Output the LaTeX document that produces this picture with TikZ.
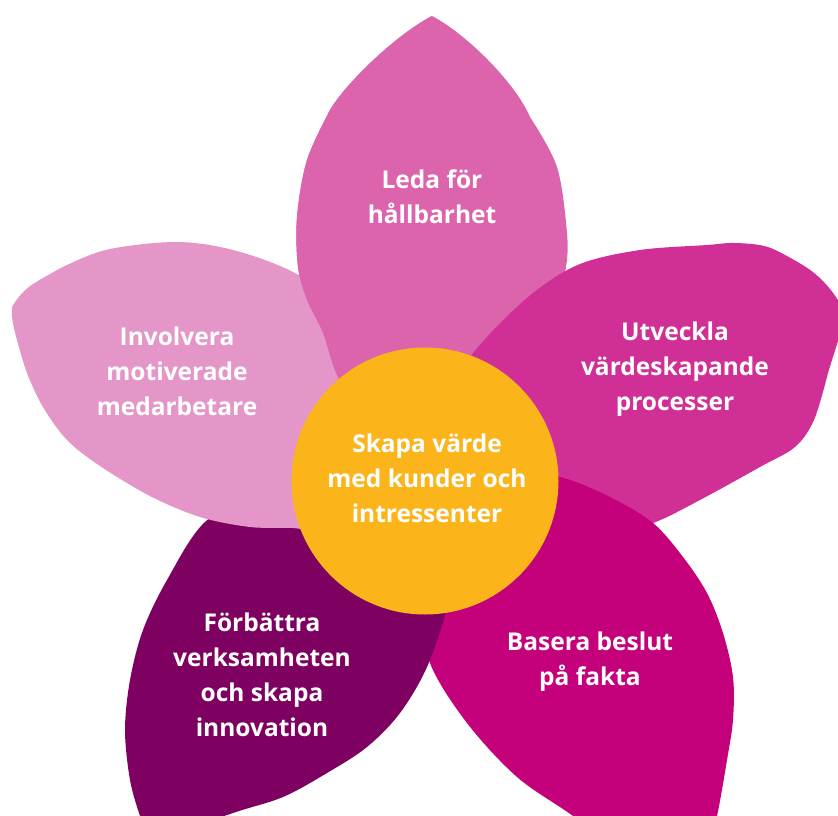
\documentclass[tikz,border=0pt]{standalone}
\usepackage{fontspec}
\setmainfont{Open Sans}
\definecolor{cLeda}{HTML}{DC64AC}
\definecolor{cInv}{HTML}{E496C8}
\definecolor{cUtv}{HTML}{D03096}
\definecolor{cBas}{HTML}{C4007A}
\definecolor{cForb}{HTML}{7E0060}
\definecolor{cHub}{HTML}{FBB41A}
\tikzset{
  petaltext/.style={text=white, align=center, inner sep=0pt,
    font=\fontsize{24.5}{35}\selectfont\bfseries},
  petalcurve/.style={smooth, tension=0.55}
}
\begin{document}
\begin{tikzpicture}[x=1pt,y=-1pt]
\useasboundingbox (0,0) rectangle (838,816);
\clip (0,0) rectangle (838,816);
% Leda (top)
\def\ledapath{plot[petalcurve] coordinates {(330,110) (307,160) (297,217) (298,267) (307,300) (323,333) (337,375) (365,425) (400,455) (432,465) (464,455) (499,425) (527,375) (541,333) (557,300) (566,267) (567,233) (557,167) (530,117)} .. controls (515,82) and (465,33) .. (432,16) .. controls (399,33) and (348,80) .. (330,110) -- cycle}
\fill[cLeda] \ledapath;
% Utveckla (right)
\fill[cUtv] plot[petalcurve] coordinates {(801,264) (768,247) (735,243) (707,245) (640,250) (580,264) (533,293) (487,337) (462,372) (450,430) (480,500) (560,532) (610,532) (653,523) (700,500) (760,467) (795,447) (814,420) (828,373)} .. controls (835,350) and (841,332) .. (846,316) .. controls (838,296) and (822,276) .. (801,264) -- cycle;
% Basera (bottom right)
\fill[cBas] plot[petalcurve] coordinates {(680,895) (705,860) (717,816) (727,760) (733,720) (733,677) (723,633) (707,593) (683,557) (653,523) (610,497) (560,477) (500,470) (440,520) (420,600) (430,663) (467,723) (517,777) (573,816) (630,860) (680,895)} -- cycle;
% Forbattra (bottom left)
\fill[cForb] plot[petalcurve] coordinates {(150,842) (140,816) (130,780) (125,730) (130,680) (143,630) (167,580) (205,522) (260,495) (330,480) (420,500) (450,560) (447,607) (427,667) (400,713) (367,747) (327,773) (283,797) (233,813) (150,842)} -- cycle;
% Involvera (left)
\fill[cInv] plot[petalcurve] coordinates {(33,284) (67,265) (110,249) (177,242) (233,250) (293,272) (350,310) (410,380) (440,450) (400,500) (340,532) (293,528) (250,527) (200,517) (150,496) (100,466) (67,440) (43,407) (27,373) (17,340)} .. controls (14,329) and (11,318) .. (12,307) .. controls (17,298) and (24,290) .. (33,284) -- cycle;
% Leda again over Involvera
\begin{scope}
\clip (0,0) rectangle (432,470);
\fill[cLeda] \ledapath;
\end{scope}
% hub
\node[circle, fill=cHub, minimum size=267pt, inner sep=0pt] (hub) at (425,481) {};
\node[petaltext] (hubtext) at (427,478) {Skapa värde\\med kunder och\\intressenter};
\node[petaltext] (leda) at (432,197) {Leda för\\hållbarhet};
\node[petaltext] (involvera) at (177,371) {Involvera\\motiverade\\medarbetare};
\node[petaltext] (utveckla) at (675,369) {Utveckla\\värdeskapande\\processer};
\node[petaltext] (forbattra) at (262,675) {Förbättra\\verksamheten\\och skapa\\innovation};
\node[petaltext] (basera) at (590,662) {Basera beslut\\på fakta};
\end{tikzpicture}
\end{document}
